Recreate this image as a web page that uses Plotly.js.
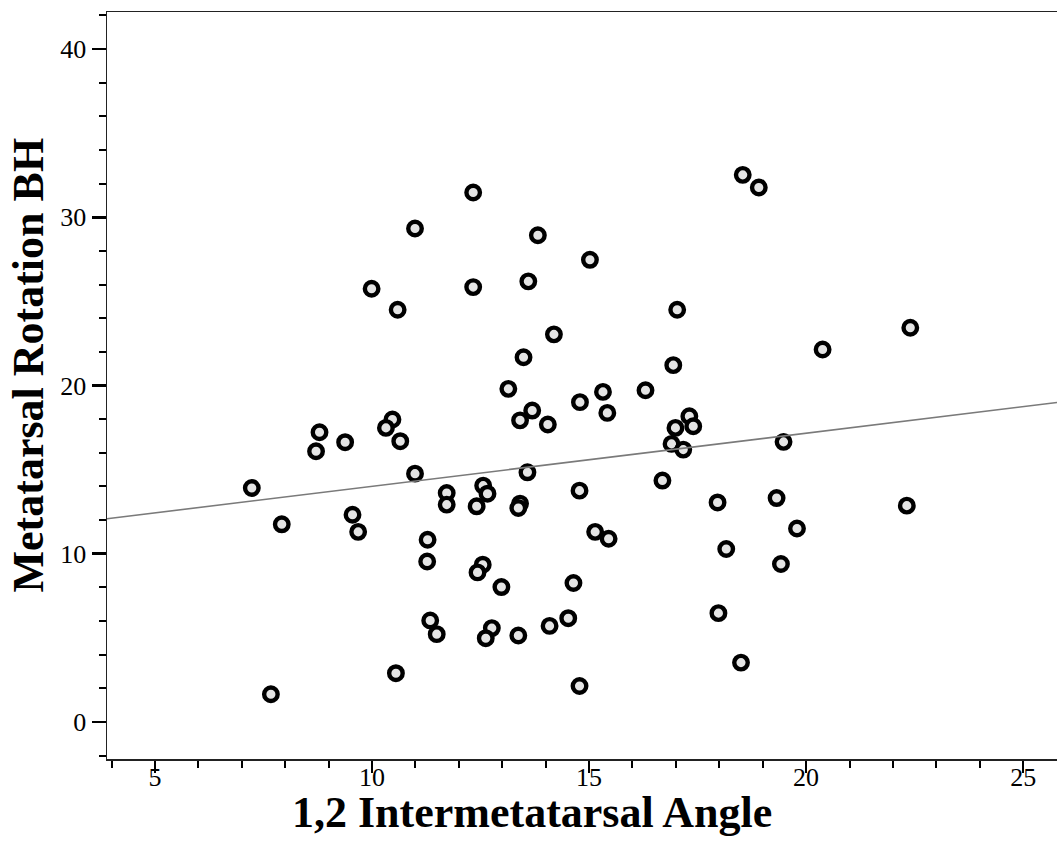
<!DOCTYPE html>
<html>
<head>
<meta charset="utf-8">
<script src="https://cdn.plot.ly/plotly-3.0.1.min.js"></script>
<style>
html,body{margin:0;padding:0;background:#fff;}
#chart{width:1057px;height:854px;}
</style>
</head>
<body>
<div id="chart"></div>
<script>
// 1,2 Intermetatarsal Angle (x) vs Metatarsal Rotation BH (y)
const imaAngle = [
  12.33, 10.99, 13.82, 15.02, 9.99, 12.33, 13.60, 10.59, 14.19, 18.54,
  18.91, 17.03, 22.40, 13.49, 13.14, 14.79, 13.69, 13.41, 14.05, 8.79,
  10.47, 10.32, 9.38, 8.71, 10.65, 13.58, 10.99, 7.23, 11.72, 11.72,
  12.56, 12.66, 12.41, 13.41, 13.37, 14.78, 7.92, 9.55, 9.68, 15.14,
  15.45, 20.38, 16.94, 15.32, 16.30, 15.42, 17.31, 17.40, 16.99, 16.90,
  17.17, 19.48, 16.69, 17.96, 19.32, 22.32, 19.79, 11.28, 11.27, 12.55,
  12.43, 12.98, 14.64, 11.34, 11.49, 12.76, 12.62, 13.37, 14.09, 14.52,
  10.55, 7.67, 14.78, 18.16, 19.42, 17.98, 18.50
];
const rotationBH = [
  31.47, 29.33, 28.93, 27.47, 25.75, 25.85, 26.19, 24.50, 23.04, 32.52,
  31.77, 24.50, 23.43, 21.68, 19.80, 19.01, 18.51, 17.93, 17.68, 17.22,
  17.98, 17.48, 16.63, 16.09, 16.69, 14.84, 14.76, 13.91, 13.61, 12.92,
  14.05, 13.57, 12.82, 12.98, 12.72, 13.75, 11.75, 12.32, 11.30, 11.30,
  10.89, 22.14, 21.21, 19.62, 19.72, 18.37, 18.17, 17.58, 17.48, 16.53,
  16.19, 16.65, 14.35, 13.05, 13.31, 12.86, 11.50, 10.83, 9.54, 9.35,
  8.89, 8.02, 8.26, 6.03, 5.22, 5.58, 4.98, 5.14, 5.71, 6.17,
  2.90, 1.65, 2.14, 10.28, 9.39, 6.47, 3.53
];
// fitted regression line (end points)
const fitX = [3.894, 25.78];
const fitY = [12.08, 18.99];

const xTickVals = [5, 10, 15, 20, 25];
const yTickVals = [0, 10, 20, 30, 40];

const serif = "Liberation Serif";

const traces = [
  {
    x: fitX, y: fitY, type: 'scatter', mode: 'lines', xaxis: 'x2', yaxis: 'y',
    line: {color: '#7a7a7a', width: 1.6},
    hoverinfo: 'skip', showlegend: false
  },
  {
    x: imaAngle, y: rotationBH, type: 'scatter', mode: 'markers',
    marker: {symbol: 'circle', size: 13.5, color: '#e4e4e4',
             line: {color: '#000', width: 4.4}},
    showlegend: false
  }
];

const layout = {
  width: 1057, height: 854,
  margin: {l: 107, r: 0, t: 12, b: 95},
  paper_bgcolor: '#fff', plot_bgcolor: '#fff',
  font: {family: serif, color: '#000', size: 26},
  showlegend: false,
  xaxis: {
    range: [3.894, 25.78], showgrid: false, zeroline: false,
    showline: true, linecolor: '#222', linewidth: 1.5, mirror: true,
    tickmode: 'array', tickvals: xTickVals, showticklabels: false,
    ticks: 'outside', ticklen: 12, tickwidth: 2.5, tickcolor: '#000',
    minor: {dtick: 1, tick0: 0, ticks: 'outside', ticklen: 7, tickwidth: 2, tickcolor: '#000', showgrid: false}
  },
  // label-only companion axis sharing the x scale (carries the fit line)
  xaxis2: {
    overlaying: 'x', matches: 'x', anchor: 'y', side: 'bottom',
    range: [3.894, 25.78], showgrid: false, zeroline: false, showline: false,
    tickmode: 'array', tickvals: xTickVals, ticks: '',
    ticklabelstandoff: 0,
    tickfont: {family: serif, size: 26, color: '#000'}
  },
  yaxis: {
    range: [-2.2, 42.2], showgrid: false, zeroline: false,
    showline: true, linecolor: '#222', linewidth: 1.5,
    tickmode: 'array', tickvals: yTickVals,
    ticks: 'outside', ticklen: 14, tickwidth: 2.5, tickcolor: '#000',
    minor: {dtick: 2, tick0: 0, ticks: 'outside', ticklen: 7, tickwidth: 2, tickcolor: '#000', showgrid: false},
    tickfont: {family: serif, size: 26, color: '#000'}
  },
  annotations: [
    {
      text: '1,2 Intermetatarsal Angle', xref: 'paper', yref: 'paper',
      x: 0.447, y: -0.072, xanchor: 'center', yanchor: 'middle',
      showarrow: false, font: {family: serif, size: 44, color: '#000', weight: 'bold'}
    },
    {
      text: 'Metatarsal Rotation BH', xref: 'paper', yref: 'paper',
      x: -0.083, y: 0.527, xanchor: 'center', yanchor: 'middle', textangle: -90,
      showarrow: false, font: {family: serif, size: 44, color: '#000', weight: 'bold'}
    }
  ]
};

Plotly.newPlot('chart', traces, layout, {displayModeBar: false, staticPlot: true});
</script>
</body>
</html>
